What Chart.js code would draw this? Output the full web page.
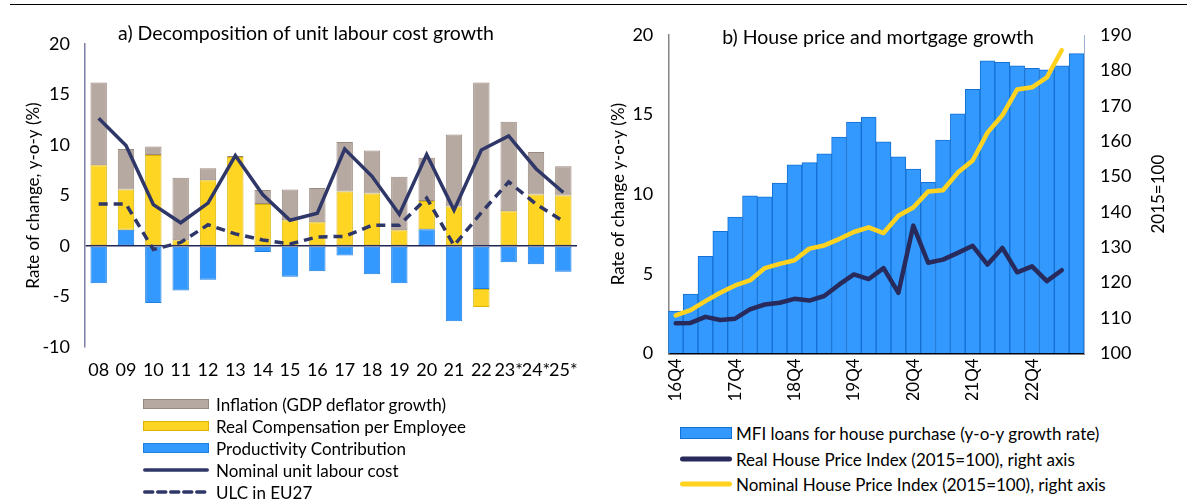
<!DOCTYPE html>
<html>
<head>
<meta charset="utf-8">
<script src="https://cdn.jsdelivr.net/npm/chart.js@4.4.1/dist/chart.umd.min.js"></script>
<style>
  body { margin: 0; background: #fff; font-family: Lato, "Open Sans", sans-serif; color: #000; }
  #wrap { position: relative; width: 1200px; height: 499px; overflow: hidden; }
  #topline { position: absolute; left: 10px; top: 4px; width: 1177px; height: 0; border-top: 1.5px solid #000; }
  .ctitle { position: absolute; font-size: 19.5px; white-space: nowrap; transform: translate(-50%, -50%); }
  canvas { position: absolute; top: 0; }
  .leg { position: absolute; font-size: 17px; white-space: nowrap; }
  .leg svg { position: absolute; left: 0; top: 0; overflow: visible; }
  .leg span { position: absolute; transform: translateY(-50%); }
</style>
</head>
<body>
<div id="wrap">
  <div id="topline"></div>
  <canvas id="left" width="600" height="400" style="left:0"></canvas>
  <canvas id="right" width="600" height="400" style="left:600px"></canvas>
  <div class="ctitle" style="left:306px; top:32px">a) Decomposition of unit labour cost growth</div>
  <div class="ctitle" style="left:878px; top:36px">b) House price and mortgage growth</div>
  <div id="legends"></div>
</div>
<script>
// ---- panel a) data ----
const years = ['08', '09', '10', '11', '12', '13', '14', '15', '16', '17', '18', '19', '20', '21', '22', '23*', '24*', '25*'];
const productivity = [-3.7, 1.6, -5.65, -4.4, -3.35, 0, -0.6, -3.05, -2.5, -0.95, -2.8, -3.7, 1.65, -7.45, -4.25, -1.6, -1.8, -2.55];
const realComp = [8.0, 4.0, 9.0, 0.56, 6.5, 8.8, 4.15, 2.55, 2.35, 5.4, 5.2, 1.55, 2.8, 3.9, -1.8, 3.45, 5.1, 5.0];
const inflation = [8.2, 4.0, 0.85, 6.2, 1.2, 0.12, 1.4, 3.05, 3.4, 4.9, 4.25, 5.3, 4.3, 7.15, 16.2, 8.85, 4.2, 2.9];
const nominalUlc = [12.65, 9.95, 4.1, 2.3, 4.25, 8.95, 5.1, 2.55, 3.25, 9.6, 6.9, 3.15, 9.05, 3.55, 9.5, 10.9, 7.65, 5.3];
const ulcEu27 = [4.15, 4.15, -0.35, 0.35, 2.1, 1.2, 0.6, 0.2, 0.9, 0.95, 2.05, 2.05, 4.75, 0.05, 3.3, 6.35, 4.15, 2.45];
const leftTicks = { min: -10, max: 20, step: 5 };

// ---- panel b) data ----
const quarters = ['16Q4',
  '17Q1', '17Q2', '17Q3', '17Q4', '18Q1', '18Q2', '18Q3', '18Q4',
  '19Q1', '19Q2', '19Q3', '19Q4', '20Q1', '20Q2', '20Q3', '20Q4',
  '21Q1', '21Q2', '21Q3', '21Q4', '22Q1', '22Q2', '22Q3', '22Q4',
  '23Q1', '23Q2', '23Q3'];
const mfiLoans = [2.65, 3.72, 6.1, 7.66, 8.56, 9.9, 9.83, 10.69, 11.84, 11.98, 12.53, 13.59, 14.53, 14.84,
  13.28, 12.34, 11.57, 10.75, 13.4, 15.05, 16.58, 18.37, 18.29, 18.06, 17.91, 17.81, 18.06, 18.83];
const realHpi = [108.5, 108.6, 110.3, 109.4, 109.8, 112.4, 113.8, 114.3, 115.4, 114.9, 116.2, 119.4, 122.3, 121.0,
  124.1, 117.1, 136.1, 125.6, 126.5, 128.4, 130.4, 125.1, 129.8, 122.9, 124.6, 120.4, 123.5, null];
const nominalHpi = [110.7, 112.2, 114.75, 117.1, 119.2, 120.6, 124.1, 125.3, 126.3, 129.6, 130.5, 132.3, 134.3, 135.6,
  134.0, 138.9, 141.2, 145.75, 146.1, 151.1, 154.5, 162.4, 167.3, 174.6, 175.2, 178.0, 185.7, null];
const rightTicksL = { min: 0, max: 20, step: 5 };
const rightTicksR = { min: 100, max: 190, step: 10 };

const FONT = 'Lato';
const navy = '#2f3768';
const navyDark = '#272a5a';
const grey = '#b6a9a1', greyB = '#9a897f';
const yellow = '#ffd524', yellowB = '#dcb300';
const blue = '#3399ff', blueB = '#1d7de0';

// panel a
new Chart(document.getElementById('left'), {
  data: {
    labels: years,
    datasets: [
      { type: 'bar', label: 'Productivity Contribution', data: productivity, stack: 'bars', order: 1,
        backgroundColor: blue, borderColor: blueB, borderWidth: 1, borderSkipped: false, barPercentage: 0.6, categoryPercentage: 1 },
      { type: 'bar', label: 'Real Compensation per Employee', data: realComp, stack: 'bars', order: 2,
        backgroundColor: yellow, borderColor: yellowB, borderWidth: 1, borderSkipped: false, barPercentage: 0.6, categoryPercentage: 1 },
      { type: 'bar', label: 'Inflation (GDP deflator growth)', data: inflation, stack: 'bars', order: 3,
        backgroundColor: grey, borderColor: greyB, borderWidth: 1, borderSkipped: false, barPercentage: 0.6, categoryPercentage: 1 },
      { type: 'line', label: 'Nominal unit labour cost', data: nominalUlc, stack: 'ulc', order: 0,
        borderColor: navy, borderWidth: 3.5, pointRadius: 0, tension: 0, fill: false },
      { type: 'line', label: 'ULC in EU27', data: ulcEu27, stack: 'eu', order: 0,
        borderColor: navy, borderWidth: 3.5, borderDash: [9, 6], pointRadius: 0, tension: 0, fill: false }
    ]
  },
  options: {
    responsive: false,
    animation: false,
    layout: { padding: { top: 44, right: 23, left: 0, bottom: 0 } },
    plugins: { legend: { display: false }, tooltip: { enabled: false }, title: { display: false } },
    scales: {
      x: {
        stacked: true,
        grid: { display: false, drawTicks: false },
        border: { display: false },
        ticks: { font: { family: FONT, size: 18 }, color: '#000', padding: 12, maxRotation: 0, autoSkip: false },
        afterFit: s => { s.height = 53; }
      },
      y: {
        stacked: true,
        min: leftTicks.min, max: leftTicks.max,
        z: 1,
        grid: {
          drawTicks: false,
          color: c => (c.tick && c.tick.value === 0 ? '#1f2658' : 'rgba(0,0,0,0)'),
          lineWidth: 1.5
        },
        border: { display: true, color: '#7d7ea3', width: 1.5 },
        ticks: { stepSize: leftTicks.step, font: { family: FONT, size: 18 }, color: '#000', padding: 15 },
        title: { display: true, text: 'Rate of change, y-o-y (%)', font: { family: FONT, size: 17 }, color: '#000', padding: { top: 23, bottom: 0 } },
        afterFit: s => { s.width = 85; }
      }
    }
  }
});

// rotated title for the right-hand axis of panel b
const rightAxisTitle = {
  id: 'rightAxisTitle',
  afterDraw(chart) {
    const s = chart.scales.y1;
    const ctx = chart.ctx;
    ctx.save();
    ctx.translate(s.right - 41, (chart.chartArea.top + chart.chartArea.bottom) / 2);
    ctx.rotate(-Math.PI / 2);
    ctx.font = '17px ' + FONT;
    ctx.fillStyle = '#000';
    ctx.textAlign = 'center';
    ctx.textBaseline = 'middle';
    ctx.fillText('2015=100', 0, 0);
    ctx.restore();
  }
};

// panel b
new Chart(document.getElementById('right'), {
  data: {
    labels: quarters,
    datasets: [
      { type: 'bar', label: 'MFI loans for house purchase (y-o-y growth rate)', data: mfiLoans, yAxisID: 'y', order: 2,
        backgroundColor: blue, borderColor: '#1470d2', borderWidth: 1, borderSkipped: 'bottom', barPercentage: 1, categoryPercentage: 1 },
      { type: 'line', label: 'Real House Price Index (2015=100), right axis', data: realHpi, yAxisID: 'y1', order: 0,
        borderColor: navyDark, borderWidth: 4.5, pointRadius: 0, tension: 0, fill: false, borderCapStyle: 'round', borderJoinStyle: 'round' },
      { type: 'line', label: 'Nominal House Price Index (2015=100), right axis', data: nominalHpi, yAxisID: 'y1', order: 1,
        borderColor: '#ffd320', borderWidth: 4.5, pointRadius: 0, tension: 0, fill: false, borderCapStyle: 'round', borderJoinStyle: 'round' }
    ]
  },
  options: {
    responsive: false,
    animation: false,
    layout: { padding: { top: 35, right: 0, left: 0, bottom: 0 } },
    plugins: { legend: { display: false }, tooltip: { enabled: false }, title: { display: false } },
    scales: {
      x: {
        grid: { display: false, drawTicks: false },
        border: { display: true, color: '#000', width: 1.5 },
        ticks: {
          font: { family: FONT, size: 17 }, color: '#000', padding: 5,
          autoSkip: false, minRotation: 90, maxRotation: 90,
          callback: function (v, i) { return i % 4 === 0 ? this.getLabelForValue(v) : ''; }
        },
        afterFit: s => { s.height = 46.7; }
      },
      y: {
        position: 'left',
        min: rightTicksL.min, max: rightTicksL.max,
        grid: { display: false, drawTicks: false },
        border: { display: true, color: '#858585', width: 1.5 },
        ticks: { stepSize: rightTicksL.step, font: { family: FONT, size: 18 }, color: '#000', padding: 15 },
        title: { display: true, text: 'Rate of change y-o-y (%)', font: { family: FONT, size: 17 }, color: '#000', padding: { top: 8, bottom: 0 } },
        afterFit: s => { s.width = 68.3; }
      },
      y1: {
        position: 'right',
        min: rightTicksR.min, max: rightTicksR.max,
        grid: { display: false, drawTicks: false },
        border: { display: true, color: '#9fb0d6', width: 1 },
        ticks: { stepSize: rightTicksR.step, font: { family: FONT, size: 18 }, color: '#000', padding: 16 },
        afterFit: s => { s.width = 116; }
      }
    }
  },
  plugins: [rightAxisTitle]
});

// ---- legends (HTML, one item per row) ----
const legendA = [
  { kind: 'box', fill: grey, stroke: greyB, text: 'Inflation (GDP deflator growth)' },
  { kind: 'box', fill: yellow, stroke: yellowB, text: 'Real Compensation per Employee' },
  { kind: 'box', fill: blue, stroke: blueB, text: 'Productivity Contribution' },
  { kind: 'line', stroke: navy, text: 'Nominal unit labour cost' },
  { kind: 'dash', stroke: navy, text: 'ULC in EU27' }
];
const legendB = [
  { kind: 'box', fill: blue, stroke: '#1470d2', text: 'MFI loans for house purchase (y-o-y growth rate)' },
  { kind: 'line', stroke: navyDark, text: 'Real House Price Index (2015=100), right axis' },
  { kind: 'line', stroke: '#ffd320', text: 'Nominal House Price Index (2015=100), right axis' }
];

function buildLegend(items, x, y0, dy, sw, boxH, textX, lw) {
  const host = document.getElementById('legends');
  items.forEach((it, i) => {
    const cy = y0 + i * dy;
    const d = document.createElement('div');
    d.className = 'leg';
    d.style.left = x + 'px';
    d.style.top = cy + 'px';
    let svg;
    if (it.kind === 'box') {
      svg = `<svg width="${sw}" height="1"><rect x="0.5" y="${-boxH / 2 + 0.5}" width="${sw - 1}" height="${boxH - 1}" fill="${it.fill}" stroke="${it.stroke}" stroke-width="1"/></svg>`;
    } else {
      const dash = it.kind === 'dash' ? 'stroke-dasharray="8 5"' : '';
      svg = `<svg width="${sw}" height="1"><line x1="${lw / 2}" y1="0" x2="${sw - lw / 2}" y2="0" stroke="${it.stroke}" stroke-width="${lw}" stroke-linecap="round" ${dash}/></svg>`;
    }
    d.innerHTML = svg + `<span style="left:${textX - x}px">${it.text}</span>`;
    host.appendChild(d);
  });
}
buildLegend(legendA, 143, 404, 22, 66, 10, 216, 3.5);
buildLegend(legendB, 680, 433, 25.5, 52, 12, 736, 5);
</script>
</body>
</html>
